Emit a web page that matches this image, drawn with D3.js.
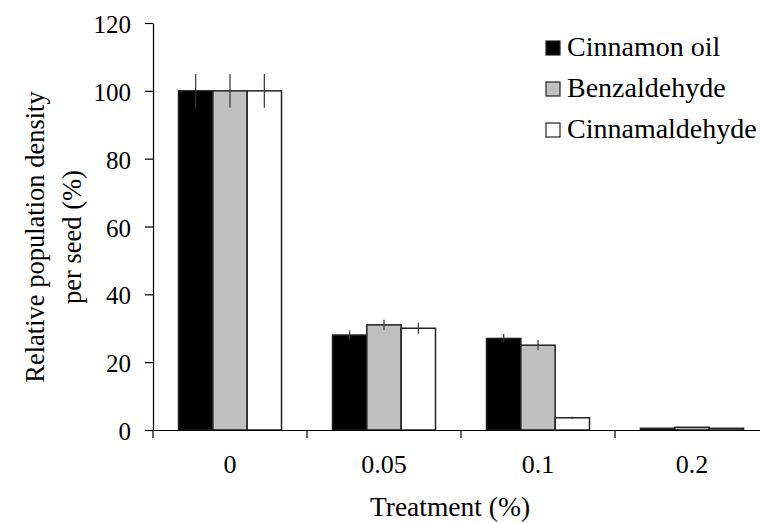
<!DOCTYPE html>
<html>
<head>
<meta charset="utf-8">
<script src="https://cdn.jsdelivr.net/npm/d3@7"></script>
<style>
  body { margin: 0; background: #fff; }
</style>
</head>
<body>
<div id="chart"></div>
<script>
const treatments = ['0', '0.05', '0.1', '0.2'];
const seriesNames = ['Cinnamon oil', 'Benzaldehyde', 'Cinnamaldehyde'];
const cinnamonOil = [100, 28, 27, 0.5];
const benzaldehyde = [100, 31, 25, 0.8];
const cinnamaldehyde = [100, 30, 3.6, 0.5];
const cinnamonOilErr = [5, 1.3, 1.3, 0];
const benzaldehydeErr = [5, 1.5, 1.5, 0];
const cinnamaldehydeErr = [5, 1.6, 0.3, 0];
const yTicks = [0, 20, 40, 60, 80, 100, 120];
const fills = ['#000000', '#c0c0c0', '#ffffff'];

const values = [cinnamonOil, benzaldehyde, cinnamaldehyde];
const errors = [cinnamonOilErr, benzaldehydeErr, cinnamaldehydeErr];
const serif = "'Liberation Serif', 'DejaVu Serif', serif";

const W = 760, H = 523;
const margin = { top: 23, right: -9, bottom: 93, left: 153 };
const width = W - margin.left - margin.right;
const height = H - margin.top - margin.bottom;

const svg = d3.select('#chart').append('svg')
  .attr('width', W)
  .attr('height', H)
  .style('font-family', serif);

const g = svg.append('g')
  .attr('transform', `translate(${margin.left},${margin.top})`);

const x = d3.scaleBand()
  .domain(treatments)
  .range([0, width])
  .paddingInner(0)
  .paddingOuter(0);

const x1 = d3.scaleBand()
  .domain(seriesNames)
  .range([25.5, x.bandwidth() - 25.5]);

const y = d3.scaleLinear()
  .domain([0, 120])
  .range([height, 0]);

// bars
const rows = [];
treatments.forEach((t, i) => {
  seriesNames.forEach((s, j) => {
    rows.push({ t, s, j, v: values[j][i], e: errors[j][i] });
  });
});

g.selectAll('.bar')
  .data(rows)
  .enter().append('rect')
  .attr('class', 'bar')
  .attr('x', d => x(d.t) + x1(d.s))
  .attr('y', d => y(d.v))
  .attr('width', x1.bandwidth())
  .attr('height', d => height - y(d.v))
  .attr('fill', d => fills[d.j])
  .attr('stroke', '#222')
  .attr('stroke-width', 1.5);

// error bars
g.selectAll('.err')
  .data(rows.filter(d => d.e > 0))
  .enter().append('line')
  .attr('class', 'err')
  .attr('x1', d => x(d.t) + x1(d.s) + x1.bandwidth() / 2)
  .attr('x2', d => x(d.t) + x1(d.s) + x1.bandwidth() / 2)
  .attr('y1', d => y(d.v + d.e))
  .attr('y2', d => y(d.v - d.e))
  .attr('stroke', '#333')
  .attr('stroke-width', 1.2);

// axes
const yAxis = g.append('g')
  .call(d3.axisLeft(y).tickValues(yTicks).tickSize(8).tickSizeOuter(0))
  .attr('font-family', null);
yAxis.select('.domain').attr('stroke', '#000').attr('stroke-width', 1.2);
yAxis.selectAll('.tick line').attr('stroke', '#000').attr('stroke-width', 1.2);
yAxis.selectAll('.tick text')
  .style('font-family', serif)
  .attr('font-size', 25)
  .attr('fill', '#000')
  .attr('dy', '0.38em')
  .attr('x', -22);

const xAxis = g.append('g')
  .attr('transform', `translate(0,${height})`)
  .call(d3.axisBottom(x).tickValues([]).tickSizeOuter(0));
xAxis.select('.domain').attr('stroke', '#000').attr('stroke-width', 1.2);

// group separators
g.selectAll('.sep')
  .data(treatments)
  .enter().append('line')
  .attr('class', 'sep')
  .attr('x1', d => x(d))
  .attr('x2', d => x(d))
  .attr('y1', height)
  .attr('y2', height + 8)
  .attr('stroke', '#000')
  .attr('stroke-width', 1.2);

g.selectAll('.xlab')
  .data(treatments)
  .enter().append('text')
  .attr('class', 'xlab')
  .attr('x', d => x(d) + x.bandwidth() / 2)
  .attr('y', height + 43)
  .attr('text-anchor', 'middle')
  .attr('font-size', 26)
  .text(d => d);

// axis titles
svg.append('text')
  .attr('x', 450)
  .attr('y', 516)
  .attr('text-anchor', 'middle')
  .attr('font-size', 27.5)
  .text('Treatment (%)');

const yt = svg.append('text')
  .attr('transform', 'translate(0,237) rotate(-90)')
  .attr('text-anchor', 'middle')
  .attr('font-size', 26.5);
yt.append('tspan').attr('x', 0).attr('y', 44).text('Relative population density');
yt.append('tspan').attr('x', 0).attr('y', 81).text('per seed (%)');

// legend
const legend = svg.append('g').attr('transform', 'translate(546,41)');
const li = legend.selectAll('.li')
  .data(seriesNames)
  .enter().append('g')
  .attr('class', 'li')
  .attr('transform', (d, i) => `translate(0,${i * 41})`);
li.append('rect')
  .attr('width', 14)
  .attr('height', 14)
  .attr('fill', (d, i) => fills[i])
  .attr('stroke', '#222')
  .attr('stroke-width', 1.2);
li.append('text')
  .attr('x', 21)
  .attr('y', 15)
  .attr('font-size', 28)
  .text(d => d);
</script>
</body>
</html>
